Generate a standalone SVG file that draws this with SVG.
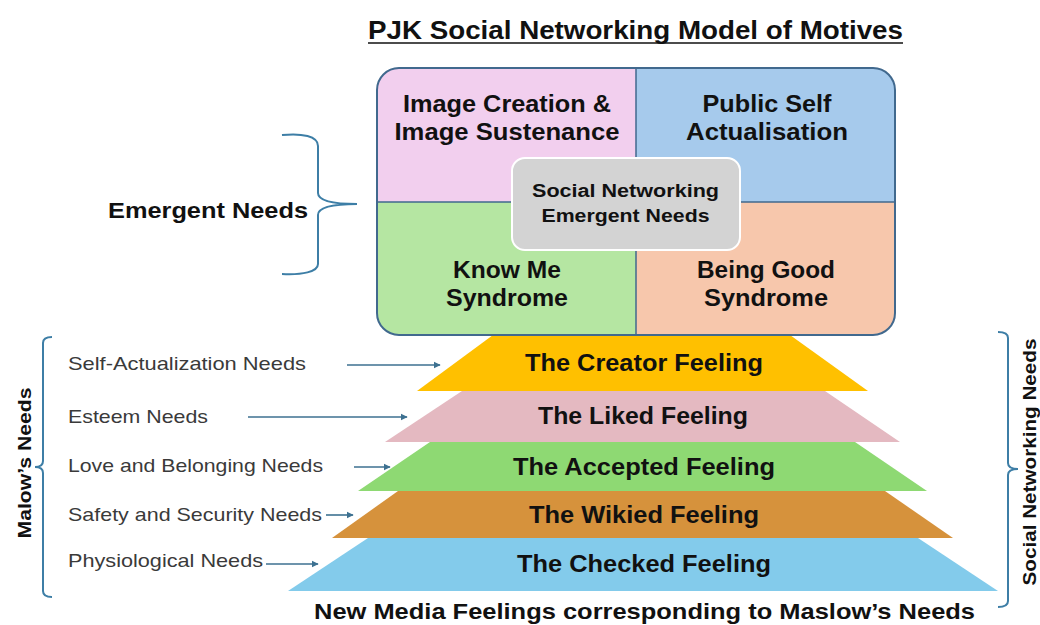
<svg xmlns="http://www.w3.org/2000/svg" width="1040" height="625" viewBox="0 0 1040 625">
<defs>
<style>
text{font-family:"Liberation Sans",Arial,sans-serif;fill:#111}
.b{font-weight:700}
.q{font-size:23px;font-weight:700;text-anchor:middle}
.p{font-size:23px;font-weight:700;text-anchor:middle}
.l{font-size:18.5px;fill:#3a3a3a}
.br{fill:none;stroke:#3d7ea6;stroke-width:2}
.ar{stroke:#3d7191;stroke-width:1.6;fill:none;marker-end:url(#ah)}
.div{stroke:#41698e;stroke-width:1.5}
</style>
<marker id="ah" viewBox="0 0 10 10" refX="9" refY="5" markerWidth="4.5" markerHeight="4.5" orient="auto" markerUnits="strokeWidth">
<path d="M0,0 L10,5 L0,10 Z" fill="#3d7191"/>
</marker>
<clipPath id="boxclip"><rect x="377" y="68" width="518" height="267" rx="22"/></clipPath>
</defs>
<rect width="1040" height="625" fill="#fff"/>

<g id="title">
<text class="b" x="635.5" y="38.5" font-size="25" text-anchor="middle" textLength="535" lengthAdjust="spacingAndGlyphs">PJK Social Networking Model of Motives</text>
<line x1="368" y1="43" x2="903" y2="43" stroke="#111" stroke-width="1.6"/>
</g>

<g id="pyramid">
<g id="creator"><polygon points="493,335 790,335 868,391 417,391" fill="#ffc000"/><text class="p" x="644" y="370.5" textLength="238" lengthAdjust="spacingAndGlyphs">The Creator Feeling</text></g>
<g id="liked"><polygon points="462,391 825,391 900,442 385,442" fill="#e4b9c1"/><text class="p" x="643" y="423.5" textLength="210" lengthAdjust="spacingAndGlyphs">The Liked Feeling</text></g>
<g id="accepted"><polygon points="430,442 855,442 927,491 358,491" fill="#8ed973"/><text class="p" x="644" y="474.5" textLength="262" lengthAdjust="spacingAndGlyphs">The Accepted Feeling</text></g>
<g id="wikied"><polygon points="398,491 885,491 953,538 332,538" fill="#d6923c"/><text class="p" x="644" y="522.5" textLength="230" lengthAdjust="spacingAndGlyphs">The Wikied Feeling</text></g>
<g id="checked"><polygon points="368,538 918,538 998,591 288,591" fill="#83cbeb"/><text class="p" x="644" y="571.5" textLength="254" lengthAdjust="spacingAndGlyphs">The Checked Feeling</text></g>
</g>

<g id="emergent-box">
<g clip-path="url(#boxclip)">
<rect x="377" y="68" width="259" height="134" fill="#f2cfee"/>
<rect x="636" y="68" width="259" height="134" fill="#a6caec"/>
<rect x="377" y="202" width="259" height="133" fill="#b5e6a2"/>
<rect x="636" y="202" width="259" height="133" fill="#f7c7ac"/>
</g>
<line class="div" x1="636" y1="68" x2="636" y2="335"/>
<line class="div" x1="377" y1="202" x2="895" y2="202"/>
<rect x="377" y="68" width="518" height="267" rx="22" fill="none" stroke="#41698e" stroke-width="2"/>
<g id="q-image"><text class="q" x="507" y="112" textLength="208" lengthAdjust="spacingAndGlyphs">Image Creation &amp;</text><text class="q" x="507" y="140" textLength="225" lengthAdjust="spacingAndGlyphs">Image Sustenance</text></g>
<g id="q-public"><text class="q" x="767" y="112" textLength="129" lengthAdjust="spacingAndGlyphs">Public Self</text><text class="q" x="767" y="140" textLength="162" lengthAdjust="spacingAndGlyphs">Actualisation</text></g>
<g id="q-knowme"><text class="q" x="507" y="278" textLength="108" lengthAdjust="spacingAndGlyphs">Know Me</text><text class="q" x="507" y="306" textLength="122" lengthAdjust="spacingAndGlyphs">Syndrome</text></g>
<g id="q-beinggood"><text class="q" x="766" y="278" textLength="138" lengthAdjust="spacingAndGlyphs">Being Good</text><text class="q" x="766" y="306" textLength="124" lengthAdjust="spacingAndGlyphs">Syndrome</text></g>
<g id="center">
<rect x="512" y="158" width="228" height="92" rx="13" fill="#d3d3d3" stroke="#fff" stroke-width="2"/>
<text class="b" x="625.5" y="197" font-size="18" text-anchor="middle" textLength="187" lengthAdjust="spacingAndGlyphs">Social Networking</text>
<text class="b" x="625.5" y="222" font-size="18" text-anchor="middle" textLength="168" lengthAdjust="spacingAndGlyphs">Emergent Needs</text>
</g>
</g>

<g id="emergent-label">
<text class="b" x="208" y="218" font-size="22" text-anchor="middle" textLength="200" lengthAdjust="spacingAndGlyphs">Emergent Needs</text>
</g>

<g id="maslow-labels">
<text class="l" x="68" y="370" textLength="238" lengthAdjust="spacingAndGlyphs">Self-Actualization Needs</text>
<text class="l" x="68" y="423" textLength="140" lengthAdjust="spacingAndGlyphs">Esteem Needs</text>
<text class="l" x="68" y="472" textLength="255" lengthAdjust="spacingAndGlyphs">Love and Belonging Needs</text>
<text class="l" x="68" y="521" textLength="254" lengthAdjust="spacingAndGlyphs">Safety and Security Needs</text>
<text class="l" x="68" y="567" textLength="195" lengthAdjust="spacingAndGlyphs">Physiological Needs</text>
</g>

<g id="side-labels">
<text class="b" font-size="19" text-anchor="middle" transform="translate(31,463) rotate(-90)" textLength="151" lengthAdjust="spacingAndGlyphs">Malow’s Needs</text>
<text class="b" font-size="19" text-anchor="middle" transform="translate(1036,462) rotate(-90)" textLength="247" lengthAdjust="spacingAndGlyphs">Social Networking Needs</text>
<text class="b" x="644.5" y="618.5" font-size="22" text-anchor="middle" textLength="661" lengthAdjust="spacingAndGlyphs">New Media Feelings corresponding to Maslow’s Needs</text>
</g>

<g id="connectors">
<path class="br" d="M282,135 C302,133 318,136 318,146 L318,193 C318,200 330,204 357,204 C330,204 318,208 318,215 L318,264 C318,272 302,275 282,274"/>
<path class="br" d="M52,337 Q43,337 43,343 L43,461 Q43,467 35,467 Q43,467 43,473 L43,591 Q43,597 52,597"/>
<path class="br" d="M998,332 Q1008,332 1008,338 L1008,463 Q1008,469 1018,469 Q1008,469 1008,475 L1008,601 Q1008,607 998,607"/>
<line class="ar" x1="347" y1="365" x2="440" y2="365"/>
<line class="ar" x1="248" y1="417" x2="407" y2="417"/>
<line class="ar" x1="354" y1="467" x2="390" y2="467"/>
<line class="ar" x1="326" y1="515" x2="353" y2="515"/>
<line class="ar" x1="266" y1="564" x2="318" y2="564"/>
</g>
</svg>
